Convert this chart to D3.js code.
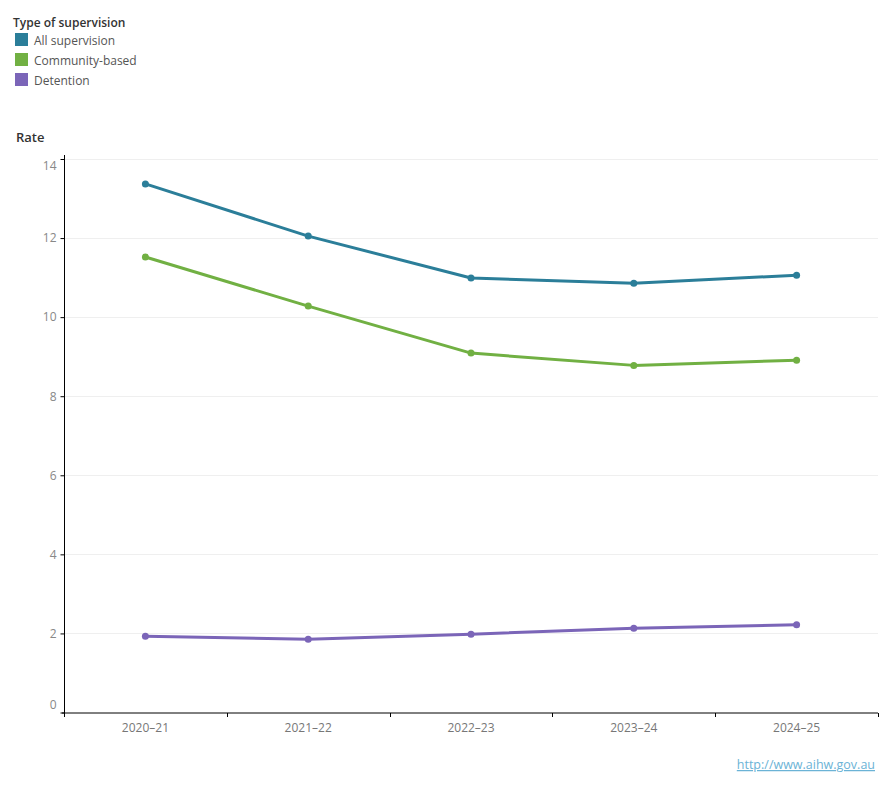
<!DOCTYPE html>
<html lang="en">
<head>
  <meta charset="utf-8">
  <title>Rate by type of supervision</title>
  <script src="https://cdnjs.cloudflare.com/ajax/libs/d3/7.8.5/d3.min.js"></script>
  <style>
    body { margin: 0; background: #fff; }
    svg text { font-family: "Open Sans", "Noto Sans", sans-serif; }
  </style>
</head>
<body>
<script>
// Data
var years = ["2020–21", "2021–22", "2022–23", "2023–24", "2024–25"];
var seriesNames = ["All supervision", "Community-based", "Detention"];
var allSupervision = [13.37, 12.05, 10.99, 10.86, 11.06];
var communityBased = [11.52, 10.28, 9.09, 8.78, 8.91];
var detention = [1.93, 1.85, 1.98, 2.13, 2.22];
var yTicks = [0, 2, 4, 6, 8, 10, 12, 14];
var colours = ["#2b7e99", "#71b043", "#7b65b8"];

var series = [allSupervision, communityBased, detention];

var width = 890, height = 800;
var margin = {top: 159, right: 12, bottom: 88, left: 64};

var svg = d3.select("body").append("svg")
  .attr("width", width)
  .attr("height", height);

var x = d3.scaleBand()
  .domain(years)
  .range([margin.left, width - margin.right]);

var y = d3.scaleLinear()
  .domain([0, 14])
  .range([height - margin.bottom + 0.5, margin.top]);

// legend
var legend = svg.append("g");
legend.append("text")
  .attr("x", 13).attr("y", 27)
  .attr("font-size", "12px")
  .attr("font-weight", 600)
  .attr("fill", "#333")
  .text("Type of supervision");
seriesNames.forEach(function(name, i) {
  legend.append("rect")
    .attr("x", 15).attr("y", 33 + i * 20)
    .attr("width", 13).attr("height", 13)
    .attr("fill", colours[i]);
  legend.append("text")
    .attr("x", 34).attr("y", 45 + i * 20)
    .attr("font-size", "12px")
    .attr("fill", "#555")
    .text(name);
});

// axis title
svg.append("text")
  .attr("x", 16).attr("y", 142)
  .attr("font-size", "13px")
  .attr("font-weight", 600)
  .attr("fill", "#333")
  .text("Rate");

// gridlines
svg.append("g").selectAll("line")
  .data(yTicks.filter(function(d) { return d > 0; }))
  .enter().append("line")
  .attr("x1", margin.left).attr("x2", width - margin.right)
  .attr("y1", function(d) { return Math.round(y(d)) + 0.5; })
  .attr("y2", function(d) { return Math.round(y(d)) + 0.5; })
  .attr("stroke", "#efefef");

// y axis
var yAxis = svg.append("g")
  .attr("transform", "translate(" + (margin.left + 0.5) + ",0)")
  .call(d3.axisLeft(y).tickValues(yTicks).tickSize(4).tickPadding(4));
yAxis.select(".domain")
  .attr("d", "M0," + (margin.top - 4) + "V" + (height - margin.bottom + 1));
yAxis.selectAll(".tick line").attr("stroke", "#000");
yAxis.selectAll(".tick text")
  .attr("font-size", "12px")
  .attr("fill", "#888")
  .attr("dy", function(d) { return d === 0 ? "-0.35em" : d === 14 ? "0.85em" : "0.32em"; });

// x axis
var xAxis = svg.append("g")
  .attr("transform", "translate(0," + (height - margin.bottom + 1) + ")")
  .call(d3.axisBottom(x).tickSize(0).tickPadding(10));
xAxis.select(".domain")
  .attr("d", "M" + (margin.left - 2) + ",0H" + (width - margin.right));
xAxis.selectAll(".tick text")
  .attr("font-size", "12px")
  .attr("fill", "#777");
var bounds = years.map(function(d) { return x(d); }).concat([x.range()[1]]);
xAxis.selectAll(".bound")
  .data(bounds)
  .enter().append("line")
  .attr("class", "bound")
  .attr("x1", function(d) { return Math.round(d) + 0.5; })
  .attr("x2", function(d) { return Math.round(d) + 0.5; })
  .attr("y1", 0).attr("y2", 4)
  .attr("stroke", "#000");

// lines and points
var line = d3.line()
  .x(function(d, i) { return x(years[i]) + x.bandwidth() / 2; })
  .y(function(d) { return y(d); });

series.forEach(function(values, s) {
  svg.append("path")
    .datum(values)
    .attr("d", line)
    .attr("fill", "none")
    .attr("stroke", colours[s])
    .attr("stroke-width", 3)
    .attr("stroke-linejoin", "round");
  svg.append("g").selectAll("circle")
    .data(values)
    .enter().append("circle")
    .attr("cx", function(d, i) { return x(years[i]) + x.bandwidth() / 2; })
    .attr("cy", function(d) { return y(d); })
    .attr("r", 3.5)
    .attr("fill", colours[s]);
});

// footer link
svg.append("text")
  .attr("x", width - 15).attr("y", 769)
  .attr("text-anchor", "end")
  .attr("font-size", "12.5px")
  .attr("fill", "#6bb3d6")
  .attr("text-decoration", "underline")
  .text("http://www.aihw.gov.au");
</script>
</body>
</html>
